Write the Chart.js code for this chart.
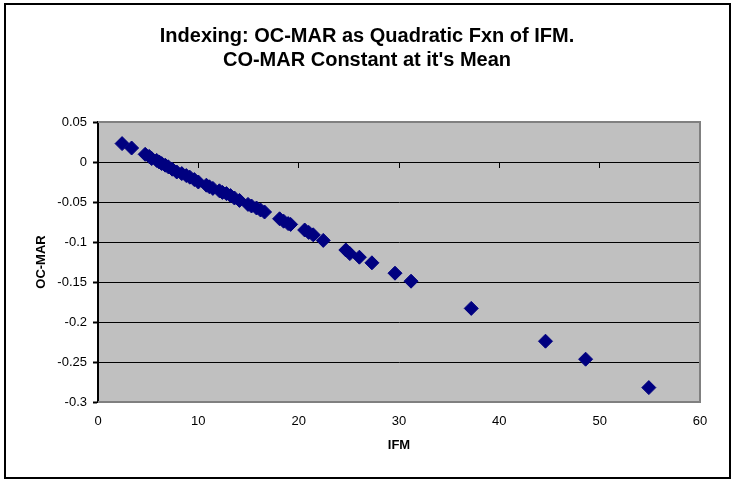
<!DOCTYPE html>
<html>
<head>
<meta charset="utf-8">
<script src="https://cdn.jsdelivr.net/npm/chart.js@4/dist/chart.umd.min.js"></script>
<style>
  html, body { margin: 0; padding: 0; background: #ffffff; }
  #c { display: block; }
</style>
</head>
<body>
<canvas id="c" width="734" height="482"></canvas>
<script>
// ---- Data ----
const titleLines = ["Indexing: OC-MAR as Quadratic Fxn of IFM.", "CO-MAR Constant at it's Mean"];
const xAxisTitle = "IFM";
const yAxisTitle = "OC-MAR";

const ifmValues = [
  2.4, 3.35, 4.7, 5.1, 5.35, 5.85, 6.1, 6.35, 6.7, 7.0, 7.4, 7.85, 8.35, 8.8, 9.15, 9.6,
  10.0, 10.8, 11.1, 11.45, 12.1, 12.4, 12.8, 13.2, 13.6, 14.1, 14.95, 15.3, 15.8, 16.2, 16.6,
  18.1, 18.5, 18.95, 19.2, 20.6, 21.0, 21.45, 22.45, 24.7, 25.1, 26.05, 27.3, 29.6, 31.2,
  37.2, 44.6, 48.6, 54.9
];
const ocMarValues = [
  0.023, 0.0175, 0.0096, 0.007, 0.0043, 0.002, 0.0, -0.002, -0.004, -0.006, -0.009, -0.0125, -0.0145, -0.017, -0.019, -0.022,
  -0.025, -0.029, -0.031, -0.033, -0.036, -0.038, -0.0395, -0.042, -0.045, -0.048, -0.053, -0.055, -0.0575, -0.06, -0.0625,
  -0.071, -0.074, -0.077, -0.078, -0.085, -0.088, -0.091, -0.098, -0.110, -0.1145, -0.119, -0.126, -0.139, -0.149,
  -0.183, -0.224, -0.2465, -0.282
];

const xTickValues = [0, 10, 20, 30, 40, 50, 60];
const yTickValues = [-0.3, -0.25, -0.2, -0.15, -0.1, -0.05, 0, 0.05];
const yTickLabels = ["-0.3", "-0.25", "-0.2", "-0.15", "-0.1", "-0.05", "0", "0.05"];

// ---- Build chart ----
const points = ifmValues.map((x, i) => ({ x: x, y: ocMarValues[i] }));
const FONT = "'Liberation Sans', Arial, Helvetica, sans-serif";

const framePlugin = {
  id: 'frame',
  beforeDraw(chart) {
    const ctx = chart.ctx;
    const a = chart.chartArea;
    ctx.save();
    ctx.fillStyle = '#ffffff';
    ctx.fillRect(0, 0, chart.width, chart.height);
    ctx.fillStyle = '#C0C0C0';
    ctx.fillRect(a.left, a.top, a.right - a.left, a.bottom - a.top);
    ctx.strokeStyle = '#000000';
    ctx.lineWidth = 2;
    ctx.strokeRect(5, 4, 725, 474);
    ctx.restore();
  },
  beforeDatasetsDraw(chart) {
    const ctx = chart.ctx;
    const a = chart.chartArea;
    ctx.save();
    ctx.strokeStyle = '#808080';
    ctx.lineWidth = 2;
    ctx.beginPath();
    ctx.moveTo(a.left, a.top);
    ctx.lineTo(a.right, a.top);
    ctx.lineTo(a.right, a.bottom);
    ctx.lineTo(a.left, a.bottom);
    ctx.stroke();
    ctx.restore();
  }
};

new Chart(document.getElementById('c'), {
  type: 'scatter',
  data: {
    datasets: [{
      label: yAxisTitle,
      data: points,
      xAxisID: 'x',
      yAxisID: 'y',
      pointStyle: 'rectRot',
      pointRadius: 7,
      pointHoverRadius: 7,
      backgroundColor: '#000080',
      borderColor: '#000080',
      borderWidth: 1
    }]
  },
  options: {
    responsive: false,
    animation: false,
    devicePixelRatio: 1,
    layout: { padding: { top: 6, left: 6, right: 6, bottom: 6 } },
    plugins: {
      legend: { display: false },
      tooltip: { enabled: false },
      title: {
        display: true,
        text: titleLines,
        color: '#000000',
        font: { family: FONT, size: 20, weight: 'bold', lineHeight: 24 / 20 },
        padding: { top: 18, bottom: 50 }
      }
    },
    scales: {
      x: {
        type: 'linear',
        position: 'bottom',
        min: 0,
        max: 60,
        afterBuildTicks(s) { s.ticks = xTickValues.map(v => ({ value: v })); },
        ticks: {
          color: '#000000',
          font: { family: FONT, size: 13 },
          padding: 7,
          maxRotation: 0,
          callback: (v) => String(v)
        },
        grid: { display: true, drawOnChartArea: false, drawTicks: true, tickLength: 5, tickColor: 'rgba(0,0,0,0)' },
        border: { display: false },
        title: {
          display: true,
          text: xAxisTitle,
          color: '#000000',
          font: { family: FONT, size: 13, weight: 'bold' },
          padding: { top: 0, bottom: 23 }
        },
        afterFit(s) { s.height = 74; }
      },
      xz: {
        axis: 'x',
        type: 'linear',
        position: { y: 0 },
        min: 0,
        max: 60,
        afterBuildTicks(s) { s.ticks = xTickValues.map(v => ({ value: v })); },
        ticks: { display: false },
        grid: { display: true, drawOnChartArea: false, drawTicks: true, tickLength: 5, tickColor: '#000000', tickWidth: 1 },
        border: { display: true, color: '#000000', width: 1 }
      },
      y: {
        type: 'linear',
        position: 'left',
        min: -0.3,
        max: 0.05,
        afterBuildTicks(s) { s.ticks = yTickValues.map(v => ({ value: v })); },
        ticks: {
          color: '#000000',
          font: { family: FONT, size: 13 },
          padding: 6,
          callback: (v, i) => yTickLabels[i]
        },
        grid: { color: '#000000', lineWidth: 1, drawTicks: true, tickLength: 5, tickColor: '#000000', tickWidth: 2 },
        border: { display: true, color: '#000000', width: 2 },
        title: {
          display: true,
          text: yAxisTitle,
          color: '#000000',
          font: { family: FONT, size: 13, weight: 'bold' },
          padding: { top: 28, bottom: 0 }
        },
        afterFit(s) { s.width = 92; }
      },
      yr: {
        axis: 'y',
        type: 'linear',
        position: 'right',
        min: 0,
        max: 1,
        ticks: { display: false },
        grid: { display: false },
        border: { display: false },
        afterFit(s) { s.width = 28; }
      }
    }
  },
  plugins: [framePlugin]
});
</script>
</body>
</html>
